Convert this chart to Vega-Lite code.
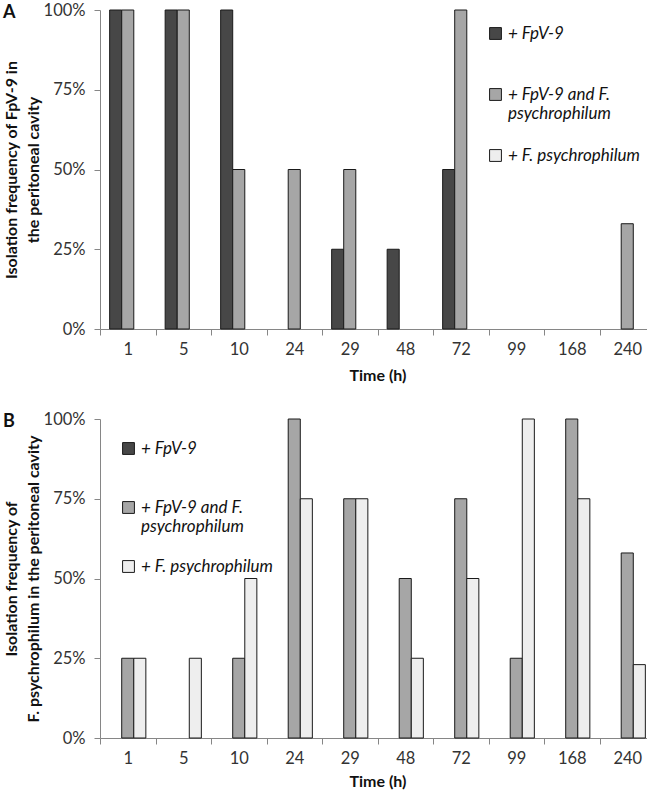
{
  "$schema": "https://vega.github.io/schema/vega-lite/v6.json",
  "padding": {"left": 3, "top": 2, "right": -9, "bottom": 0},
  "background": "white",
  "config": {
    "font": "Lato",
    "view": {"stroke": null},
    "axis": {
      "domainColor": "#868686",
      "tickColor": "#868686",
      "labelColor": "#333333",
      "labelFont": "Lato",
      "labelFontSize": 16.5,
      "titleFont": "Lato",
      "titleFontSize": 16,
      "titleFontWeight": "bold",
      "titleColor": "#111111",
      "grid": false,
      "tickSize": 6
    },
    "title": {"font": "Lato", "fontSize": 18, "fontWeight": "bold", "color": "#111111"}
  },
  "datasets": {
    "a": [
      {"time": "1", "series": "+ FpV-9", "value": 1},
      {"time": "1", "series": "+ FpV-9 and F. psychrophilum", "value": 1},
      {"time": "5", "series": "+ FpV-9", "value": 1},
      {"time": "5", "series": "+ FpV-9 and F. psychrophilum", "value": 1},
      {"time": "10", "series": "+ FpV-9", "value": 1},
      {"time": "10", "series": "+ FpV-9 and F. psychrophilum", "value": 0.5},
      {"time": "24", "series": "+ FpV-9 and F. psychrophilum", "value": 0.5},
      {"time": "29", "series": "+ FpV-9", "value": 0.25},
      {"time": "29", "series": "+ FpV-9 and F. psychrophilum", "value": 0.5},
      {"time": "48", "series": "+ FpV-9", "value": 0.25},
      {"time": "72", "series": "+ FpV-9", "value": 0.5},
      {"time": "72", "series": "+ FpV-9 and F. psychrophilum", "value": 1},
      {"time": "240", "series": "+ FpV-9 and F. psychrophilum", "value": 0.33}
    ],
    "b": [
      {"time": "1", "series": "+ FpV-9 and F. psychrophilum", "value": 0.25},
      {"time": "1", "series": "+ F. psychrophilum", "value": 0.25},
      {"time": "5", "series": "+ F. psychrophilum", "value": 0.25},
      {"time": "10", "series": "+ FpV-9 and F. psychrophilum", "value": 0.25},
      {"time": "10", "series": "+ F. psychrophilum", "value": 0.5},
      {"time": "24", "series": "+ FpV-9 and F. psychrophilum", "value": 1},
      {"time": "24", "series": "+ F. psychrophilum", "value": 0.75},
      {"time": "29", "series": "+ FpV-9 and F. psychrophilum", "value": 0.75},
      {"time": "29", "series": "+ F. psychrophilum", "value": 0.75},
      {"time": "48", "series": "+ FpV-9 and F. psychrophilum", "value": 0.5},
      {"time": "48", "series": "+ F. psychrophilum", "value": 0.25},
      {"time": "72", "series": "+ FpV-9 and F. psychrophilum", "value": 0.75},
      {"time": "72", "series": "+ F. psychrophilum", "value": 0.5},
      {"time": "99", "series": "+ FpV-9 and F. psychrophilum", "value": 0.25},
      {"time": "99", "series": "+ F. psychrophilum", "value": 1},
      {"time": "168", "series": "+ FpV-9 and F. psychrophilum", "value": 1},
      {"time": "168", "series": "+ F. psychrophilum", "value": 0.75},
      {"time": "240", "series": "+ FpV-9 and F. psychrophilum", "value": 0.58},
      {"time": "240", "series": "+ F. psychrophilum", "value": 0.23}
    ]
  },
  "resolve": {"legend": {"color": "independent"}, "scale": {"color": "independent"}},
  "spacing": 27,
  "vconcat": [
    {
      "width": 555,
      "height": 319,
      "data": {"name": "a"},
      "title": {"text": "A", "anchor": "start", "frame": "bounds", "orient": "top", "offset": -20},
      "mark": {"type": "bar", "stroke": "#1a1a1a", "strokeWidth": 1},
      "encoding": {
        "x": {
          "field": "time", "type": "nominal",
          "scale": {"domain": ["1", "5", "10", "24", "29", "48", "72", "99", "168", "240"], "paddingInner": 0, "paddingOuter": 0},
          "axis": {"title": "Time (h)", "labelAngle": 0, "tickBand": "extent", "labelPadding": 6, "titlePadding": 10}
        },
        "xOffset": {
          "field": "series", "type": "nominal",
          "scale": {"domain": ["+ FpV-9", "+ FpV-9 and F. psychrophilum", "+ F. psychrophilum"], "paddingInner": 0, "paddingOuter": 0.8}
        },
        "y": {
          "field": "value", "type": "quantitative",
          "scale": {"domain": [0, 1]},
          "axis": {"format": ".0%", "values": [0, 0.25, 0.5, 0.75, 1], "labelPadding": 9, "titlePadding": 2, "titleLineHeight": 22,
            "title": ["Isolation frequency of FpV-9 in", "the peritoneal cavity"]}
        },
        "color": {
          "field": "series", "type": "nominal",
          "scale": {"domain": ["+ FpV-9", "+ FpV-9 and F. psychrophilum", "+ F. psychrophilum"], "range": ["#474747", "#a6a6a6", "#eeeeee"]},
          "legend": {
            "title": null, "orient": "none", "legendX": 387, "legendY": 15,
            "symbolType": "square", "symbolSize": 140, "symbolStrokeColor": "#1a1a1a", "symbolStrokeWidth": 1,
            "labelFont": "Lato", "labelFontSize": 17, "labelFontStyle": "italic", "labelColor": "#111111",
            "labelLineHeight": 19, "rowPadding": 24, "labelLimit": 300, "labelOffset": 4,
            "labelExpr": "datum.label == '+ FpV-9 and F. psychrophilum' ? ['+ FpV-9 and F.', 'psychrophilum'] : datum.label == '+ FpV-9' ? ['+ FpV-9', ' '] : datum.label"
          }
        }
      }
    },
    {
      "width": 555,
      "height": 319,
      "data": {"name": "b"},
      "title": {"text": "B", "anchor": "start", "frame": "bounds", "orient": "top", "offset": -20},
      "mark": {"type": "bar", "stroke": "#1a1a1a", "strokeWidth": 1},
      "encoding": {
        "x": {
          "field": "time", "type": "nominal",
          "scale": {"domain": ["1", "5", "10", "24", "29", "48", "72", "99", "168", "240"], "paddingInner": 0, "paddingOuter": 0},
          "axis": {"title": "Time (h)", "labelAngle": 0, "tickBand": "extent", "labelPadding": 6, "titlePadding": 7}
        },
        "xOffset": {
          "field": "series", "type": "nominal",
          "scale": {"domain": ["+ FpV-9", "+ FpV-9 and F. psychrophilum", "+ F. psychrophilum"], "paddingInner": 0, "paddingOuter": 0.8}
        },
        "y": {
          "field": "value", "type": "quantitative",
          "scale": {"domain": [0, 1]},
          "axis": {"format": ".0%", "values": [0, 0.25, 0.5, 0.75, 1], "labelPadding": 9, "titlePadding": 2, "titleLineHeight": 22,
            "title": ["Isolation frequency of", "F. psychrophilum in the peritoneal cavity"]}
        },
        "color": {
          "field": "series", "type": "nominal",
          "scale": {"domain": ["+ FpV-9", "+ FpV-9 and F. psychrophilum", "+ F. psychrophilum"], "range": ["#474747", "#a6a6a6", "#eeeeee"]},
          "legend": {
            "title": null, "orient": "none", "legendX": 20, "legendY": 21,
            "symbolType": "square", "symbolSize": 140, "symbolStrokeColor": "#1a1a1a", "symbolStrokeWidth": 1,
            "labelFont": "Lato", "labelFontSize": 17, "labelFontStyle": "italic", "labelColor": "#111111",
            "labelLineHeight": 20, "rowPadding": 22, "labelLimit": 300, "labelOffset": 4,
            "labelExpr": "datum.label == '+ FpV-9 and F. psychrophilum' ? ['+ FpV-9 and F.', 'psychrophilum'] : datum.label == '+ FpV-9' ? ['+ FpV-9', ' '] : datum.label"
          }
        }
      }
    }
  ]
}
